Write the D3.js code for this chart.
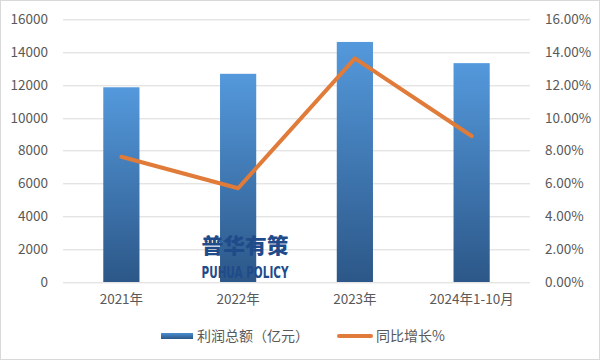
<!DOCTYPE html>
<html><head><meta charset="utf-8">
<script src="https://cdn.jsdelivr.net/npm/d3@7"></script>
<style>
body{margin:0;background:#fff;}
svg{display:block;}
text{font-family:"Noto Sans CJK SC","Microsoft YaHei",sans-serif;}
</style></head>
<body>
<svg id="c" width="601" height="361"></svg>
<script>
const categories = ["2021年","2022年","2023年","2024年1-10月"];
const profitValues = [11860, 12680, 14620, 13330];
const growthValues = [7.63, 5.71, 13.62, 8.89];
const leftTicks = [0,2000,4000,6000,8000,10000,12000,14000,16000];
const rightTicks = [0,2,4,6,8,10,12,14,16];
const seriesNames = ["利润总额（亿元）","同比增长%"];

const svg = d3.select("#c");
const W=601,H=361;
const m = {left:63, right:71, top:19.3, bottom:79};
const pw = W - m.left - m.right, ph = H - m.top - m.bottom;

svg.append("rect").attr("x",0.5).attr("y",0.5).attr("width",W-2).attr("height",H-2)
  .attr("fill","#fff").attr("stroke","#d9d9d9");

const defs = svg.append("defs");
const g1 = defs.append("linearGradient").attr("id","bg").attr("x1",0).attr("y1",0).attr("x2",0).attr("y2",1);
g1.append("stop").attr("offset","0%").attr("stop-color","#5499dc");
g1.append("stop").attr("offset","100%").attr("stop-color","#2c5788");
const g2 = defs.append("linearGradient").attr("id","lg").attr("x1",0).attr("y1",0).attr("x2",0).attr("y2",1);
g2.append("stop").attr("offset","0%").attr("stop-color","#4a8fd2");
g2.append("stop").attr("offset","100%").attr("stop-color","#2c5788");

const g = svg.append("g").attr("transform",`translate(${m.left},${m.top})`);
const x = d3.scaleBand().domain(categories).range([0,pw]).paddingInner(0.69).paddingOuter(0.345);
const xc = d3.scaleBand().domain(categories).range([0,pw]);
const yL = d3.scaleLinear().domain([0,16000]).range([ph,0]);
const yR = d3.scaleLinear().domain([0,16]).range([ph,0]);

// gridlines
g.append("g").selectAll("line").data(leftTicks).join("line")
  .attr("x1",0).attr("x2",pw).attr("y1",d=>Math.round(yL(d))+0.5).attr("y2",d=>Math.round(yL(d))+0.5)
  .attr("stroke","#d9d9d9").attr("stroke-width",1);

// left axis
const la = g.append("g").call(d3.axisLeft(yL).tickValues(leftTicks).tickSize(0).tickPadding(15).tickFormat(d3.format("d")));
la.select(".domain").remove();
la.selectAll("text").attr("fill","#595959").style("font-size","13.5px");

// right axis
const ra = g.append("g").attr("transform",`translate(${pw},0)`)
  .call(d3.axisRight(yR).tickValues(rightTicks).tickSize(0).tickPadding(15).tickFormat(d=>d.toFixed(2)+"%"));
ra.select(".domain").remove();
ra.selectAll("text").attr("fill","#595959").style("font-size","13.5px");

// bottom axis
const ba = g.append("g").attr("transform",`translate(0,${ph})`).call(d3.axisBottom(xc).tickSize(0).tickPadding(12));
ba.select(".domain").remove();
ba.selectAll("text").attr("fill","#595959").style("font-size","13.5px");

// bars
g.append("g").selectAll("rect").data(profitValues).join("rect")
  .attr("x",(d,i)=>x(categories[i])).attr("width",x.bandwidth())
  .attr("y",d=>yL(d)).attr("height",d=>ph-yL(d)).attr("fill","url(#bg)");

// line
const line = d3.line().x((d,i)=>xc(categories[i])+xc.bandwidth()/2).y(d=>yR(d));
g.append("path").datum(growthValues).attr("d",line).attr("fill","none")
  .attr("stroke","#e07b39").attr("stroke-width",4).attr("stroke-linejoin","round").attr("stroke-linecap","round");

// watermark
svg.append("text").attr("x",245).attr("y",253).attr("text-anchor","middle")
  .attr("fill","#1f4b8a").style("font-size","21px").style("font-weight","900")
  .attr("textLength",87).attr("lengthAdjust","spacingAndGlyphs").text("普华有策");
svg.append("text").attr("x",245).attr("y",278).attr("text-anchor","middle")
  .attr("fill","#1f4b8a").style("font-size","15px").style("font-weight","700")
  .attr("textLength",87).attr("lengthAdjust","spacingAndGlyphs").style("font-family","'Liberation Sans Narrow','DejaVu Sans Condensed',sans-serif").text("PUHUA POLICY");

// legend
const lg = svg.append("g");
lg.append("rect").attr("x",161).attr("y",333).attr("width",32).attr("height",6).attr("fill","url(#lg)");
lg.append("text").attr("x",197).attr("y",341).attr("fill","#595959").style("font-size","14px").text(seriesNames[0]);
lg.append("line").attr("x1",339).attr("x2",371).attr("y1",336).attr("y2",336).attr("stroke","#e07b39").attr("stroke-width",4).attr("stroke-linecap","round");
lg.append("text").attr("x",376).attr("y",341).attr("fill","#595959").style("font-size","14px").text(seriesNames[1]);
</script>
</body></html>
